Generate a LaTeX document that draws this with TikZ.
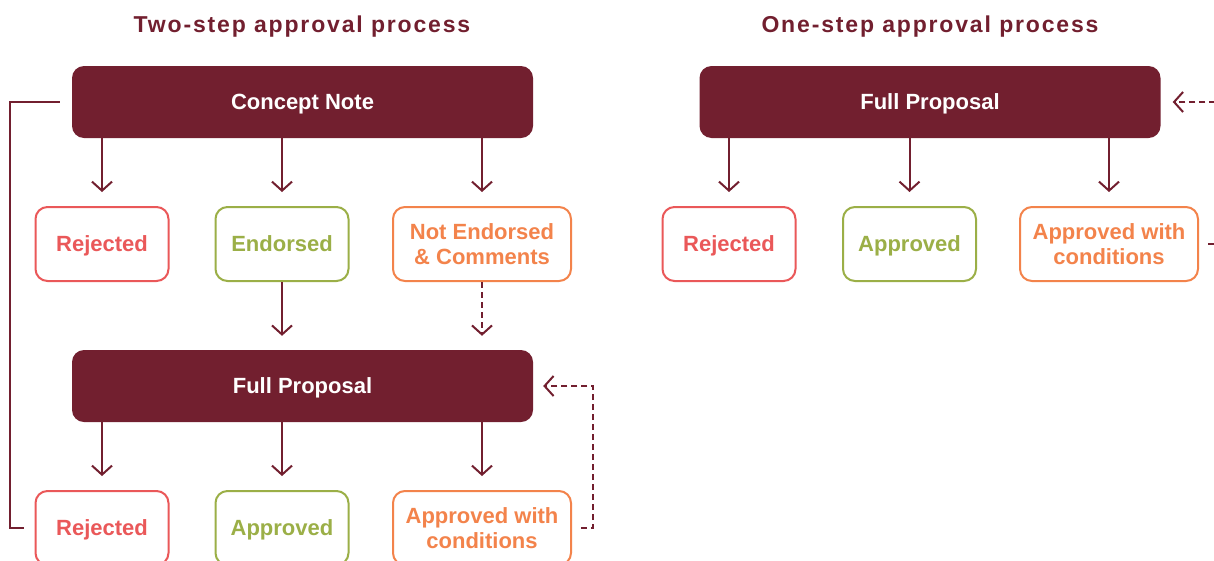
\documentclass[tikz,border=0pt]{standalone}
\usepackage{fontspec}
\setmainfont{Liberation Sans}
\newfontfamily\headfont[LetterSpace=8]{Liberation Sans}
\usetikzlibrary{arrows.meta}
\definecolor{wine}{HTML}{721F2F}
\definecolor{nored}{HTML}{EA5859}
\definecolor{okgreen}{HTML}{9BAF47}
\definecolor{maybe}{HTML}{F3834B}
\tikzset{
  head/.style={fill=wine, text=white, rounded corners=12pt,
    minimum width=461pt, minimum height=72pt},
  result/.style={draw, fill=white, line width=2pt, rounded corners=12pt,
    minimum width=133pt, minimum height=74pt, inner sep=2pt},
  wide/.style={result, minimum width=178pt},
  flow/.style={draw=wine, line width=2pt,
    -{Straight Barb[length=9pt,width=20pt,line width=2pt]}},
  back/.style={flow, dash pattern=on 6pt off 4pt},
  title/.style={text=wine, font=\headfont\bfseries\fontsize{23}{26}\selectfont}
}

\begin{document}
\begin{tikzpicture}[x=1pt, y=-1pt,
    every node/.style={align=center, text depth=0pt,
      font=\bfseries\fontsize{22}{25}\selectfont}]
  \path[use as bounding box, clip] (0,0) rectangle (1214,560);

  % two-step
  \node[title] (ttwo) at (302,24) {Two-step approval process};
  \node[head] (cn) at (302.5,102) {Concept Note};
  \begin{scope}[nored]
  \node[result] (cnr) at (102,244) {Rejected};
  \end{scope}
  \begin{scope}[okgreen]
  \node[result] (cne) at (282,244) {Endorsed};
  \end{scope}
  \begin{scope}[maybe]
  \node[wide] (cnn) at (482,244) {Not Endorsed\\\& Comments};
  \end{scope}
  \node[head] (fp) at (302.5,386) {Full Proposal};
  \begin{scope}[nored]
  \node[result] (fpr) at (102,528) {Rejected};
  \end{scope}
  \begin{scope}[okgreen]
  \node[result] (fpa) at (282,528) {Approved};
  \end{scope}
  \begin{scope}[maybe]
  \node[wide] (fpc) at (482,528) {Approved with\\conditions};
  \end{scope}

  \foreach \n in {cnr,cne,cnn} {
    \draw[flow, shorten >=14pt] (\n.north |- cn.south) -- (\n.north);
  }
  \foreach \n in {fpr,fpa,fpc} {
    \draw[flow, shorten >=14pt] (\n.north |- fp.south) -- (\n.north);
  }
  \draw[flow, shorten >=14pt] (cne.south) -- (cne.south |- fp.north);
  \draw[back, shorten >=14pt] (cnn.south) -- (cnn.south |- fp.north);
  \draw[back] ([xshift=9pt]fpc.east) -| ([xshift=60pt]fp.east) -- ([xshift=10pt]fp.east);
  \draw[draw=wine, line width=2pt] ([xshift=-12pt]cn.west) -- ++(-50,0) |- ([xshift=-11pt]fpr.west);

  % one-step
  \node[title] (tone) at (930,24) {One-step approval process};
  \node[head] (fq) at (930,102) {Full Proposal};
  \begin{scope}[nored]
  \node[result] (fqr) at (729,244) {Rejected};
  \end{scope}
  \begin{scope}[okgreen]
  \node[result] (fqa) at (909.5,244) {Approved};
  \end{scope}
  \begin{scope}[maybe]
  \node[wide] (fqc) at (1109,244) {Approved with\\conditions};
  \end{scope}
  \foreach \n in {fqr,fqa,fqc} {
    \draw[flow, shorten >=14pt] (\n.north |- fq.south) -- (\n.north);
  }
  \draw[back] ([xshift=9pt]fqc.east) -| ([xshift=70pt]fq.east) -- ([xshift=12pt]fq.east);
\end{tikzpicture}
\end{document}
